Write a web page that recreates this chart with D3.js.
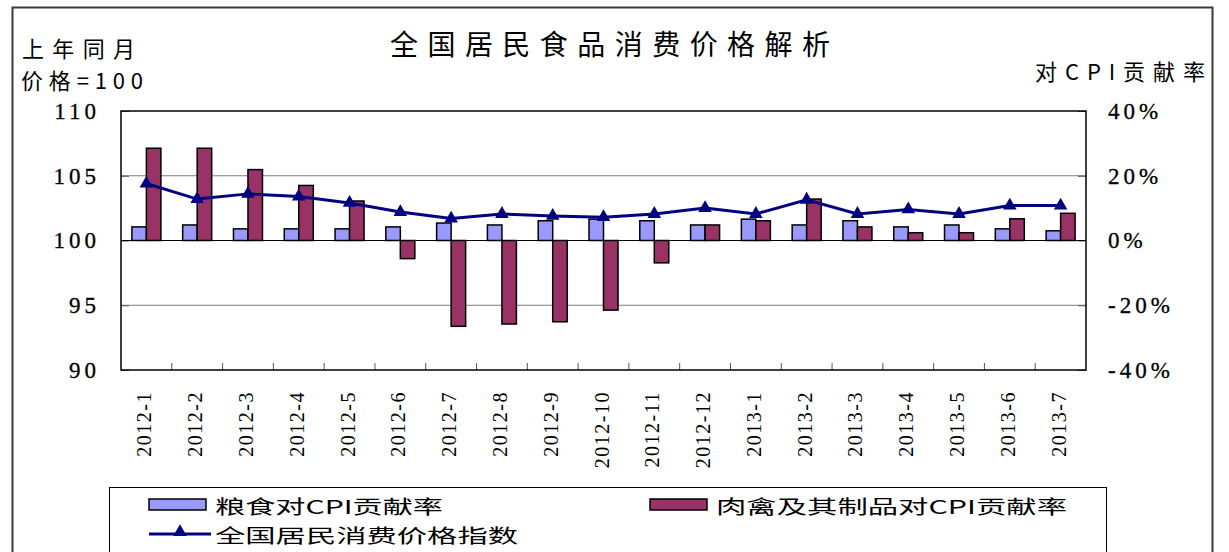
<!DOCTYPE html>
<html>
<head>
<meta charset="utf-8">
<script src="https://cdn.jsdelivr.net/npm/d3@7"></script>
<style>
  body { margin: 0; background: #fff; }
  svg { display: block; }
</style>
</head>
<body>
<svg id="chart"></svg>
<script>
// month labels
const months = ['2012-1','2012-2','2012-3','2012-4','2012-5','2012-6','2012-7','2012-8','2012-9','2012-10',
  '2012-11','2012-12','2013-1','2013-2','2013-3','2013-4','2013-5','2013-6','2013-7'];
// 粮食对CPI贡献率 (%)
const grain = [4.2, 4.8, 3.6, 3.6, 3.6, 4.2, 5.4, 4.8, 6.1, 6.6, 6.1, 4.8, 6.6, 4.8, 6.1, 4.2, 4.8, 3.6, 3.0];
// 肉禽及其制品对CPI贡献率 (%)
const meat = [28.5, 28.5, 21.9, 17.0, 12.2, -5.6, -26.5, -25.8, -25.1, -21.5, -6.9, 4.8, 6.1, 12.8, 4.2, 2.4, 2.4, 6.7, 8.4];
// 全国居民消费价格指数 (上年同月=100)
const cpi = [104.4, 103.2, 103.6, 103.4, 102.9, 102.2, 101.7, 102.05, 101.9, 101.8, 102.05, 102.5, 102.05, 103.15, 102.05, 102.4, 102.05, 102.7, 102.7];

const leftTicks = [90, 95, 100, 105, 110];
const rightTicks = [-40, -20, 0, 20, 40];

const width = 1229, height = 552;
const plot = { left: 121, right: 1086, top: 111, bottom: 370 };
const numFont = '"Liberation Serif", "Noto Sans CJK SC", serif';
const cjkFont = '"Noto Sans CJK SC", sans-serif';

const svg = d3.select('#chart')
    .attr('width', width)
    .attr('height', height);

// outer frame
svg.append('rect')
    .attr('x', 12.5).attr('y', 7.5)
    .attr('width', 1200).attr('height', 580)
    .attr('fill', 'none')
    .attr('stroke', '#3a3a3a')
    .attr('stroke-width', 2);

// scales
const xScale = d3.scaleBand()
    .domain(months)
    .range([plot.left, plot.right]);

const yLeft = d3.scaleLinear()
    .domain([90, 110])
    .range([plot.bottom, plot.top]);

const yRight = d3.scaleLinear()
    .domain([-40, 40])
    .range([plot.bottom, plot.top]);

const barW = 14.5;

// grid lines
svg.append('g')
  .selectAll('line')
  .data([95, 105])
  .join('line')
    .attr('x1', plot.left).attr('x2', plot.right)
    .attr('y1', d => yLeft(d)).attr('y2', d => yLeft(d))
    .attr('stroke', '#7f7f7f')
    .attr('stroke-width', 1);

// left axis
const yAxisL = svg.append('g')
    .attr('transform', `translate(${plot.left},0)`)
    .call(d3.axisLeft(yLeft).tickValues(leftTicks).tickSize(-8).tickPadding(21));
yAxisL.select('.domain').remove();
yAxisL.selectAll('line').attr('stroke', '#555');
yAxisL.selectAll('text')
    .attr('font-family', numFont)
    .attr('font-size', 23)
    .attr('letter-spacing', 4)
    .attr('stroke', '#000')
    .attr('stroke-width', 0.3)
    .attr('fill', '#000');

// right axis
const yAxisR = svg.append('g')
    .attr('transform', `translate(${plot.right},0)`)
    .call(d3.axisRight(yRight).tickValues(rightTicks).tickSize(-8).tickPadding(22)
      .tickFormat(d => d + '%'));
yAxisR.select('.domain').remove();
yAxisR.selectAll('line').attr('stroke', '#555');
yAxisR.selectAll('text')
    .attr('font-family', numFont)
    .attr('font-size', 23)
    .attr('letter-spacing', 4)
    .attr('stroke', '#000')
    .attr('stroke-width', 0.3)
    .attr('fill', '#000');

// bottom ticks between categories
svg.append('g')
  .selectAll('line')
  .data(months.slice(1))
  .join('line')
    .attr('x1', d => xScale(d)).attr('x2', d => xScale(d))
    .attr('y1', plot.bottom).attr('y2', plot.bottom - 7)
    .attr('stroke', '#555');

// x labels
svg.append('g')
  .selectAll('text')
  .data(months)
  .join('text')
    .attr('transform', d => `translate(${xScale(d) + xScale.bandwidth() / 2 - 2},391) rotate(-90)`)
    .attr('text-anchor', 'end')
    .attr('dominant-baseline', 'central')
    .attr('font-family', numFont)
    .attr('font-size', 20)
    .attr('letter-spacing', 1.5)
    .text(d => d);

// bars
const bars = svg.append('g');
bars.selectAll('.grain')
  .data(grain)
  .join('rect')
    .attr('class', 'grain')
    .attr('x', (d, i) => xScale(months[i]) + xScale.bandwidth() / 2 - barW)
    .attr('y', d => Math.min(yRight(d), yRight(0)))
    .attr('width', barW)
    .attr('height', d => Math.abs(yRight(d) - yRight(0)))
    .attr('fill', '#9999ff')
    .attr('stroke', '#000')
    .attr('stroke-width', 1.5);

bars.selectAll('.meat')
  .data(meat)
  .join('rect')
    .attr('class', 'meat')
    .attr('x', (d, i) => xScale(months[i]) + xScale.bandwidth() / 2)
    .attr('y', d => Math.min(yRight(d), yRight(0)))
    .attr('width', barW)
    .attr('height', d => Math.abs(yRight(d) - yRight(0)))
    .attr('fill', '#993366')
    .attr('stroke', '#000')
    .attr('stroke-width', 1.5);

// zero line (100)
svg.append('line')
    .attr('x1', plot.left).attr('x2', plot.right)
    .attr('y1', yLeft(100)).attr('y2', yLeft(100))
    .attr('stroke', '#000')
    .attr('stroke-width', 1.2);

// plot border
svg.append('rect')
    .attr('x', plot.left).attr('y', plot.top)
    .attr('width', plot.right - plot.left)
    .attr('height', plot.bottom - plot.top)
    .attr('fill', 'none')
    .attr('stroke', '#000')
    .attr('stroke-width', 1.5);

// cpi line
const line = d3.line()
    .x((d, i) => xScale(months[i]) + xScale.bandwidth() / 2)
    .y(d => yLeft(d));

svg.append('path')
    .datum(cpi)
    .attr('d', line)
    .attr('fill', 'none')
    .attr('stroke', '#000080')
    .attr('stroke-width', 3);

const tri = d3.symbol().type(d3.symbolTriangle).size(80);
svg.append('g')
  .selectAll('path')
  .data(cpi)
  .join('path')
    .attr('transform', (d, i) => `translate(${xScale(months[i]) + xScale.bandwidth() / 2},${yLeft(d)})`)
    .attr('d', tri)
    .attr('fill', '#000080');

// titles
svg.append('text')
    .attr('x', 390).attr('y', 43)
    .attr('dominant-baseline', 'central')
    .attr('font-family', cjkFont)
    .attr('font-size', 28)
    .attr('textLength', 440)
    .attr('lengthAdjust', 'spacing')
    .text('全国居民食品消费价格解析');

svg.append('text')
    .attr('x', 22).attr('y', 47)
    .attr('dominant-baseline', 'central')
    .attr('font-family', cjkFont)
    .attr('font-size', 22)
    .attr('textLength', 113)
    .attr('lengthAdjust', 'spacing')
    .text('上年同月');

svg.append('text')
    .attr('x', 21).attr('y', 79)
    .attr('dominant-baseline', 'central')
    .attr('font-family', cjkFont)
    .attr('font-size', 22)
    .attr('textLength', 122)
    .attr('lengthAdjust', 'spacing')
    .text('价格=100');

svg.append('text')
    .attr('x', 1035).attr('y', 70)
    .attr('dominant-baseline', 'central')
    .attr('font-family', cjkFont)
    .attr('font-size', 22)
    .attr('textLength', 170)
    .attr('lengthAdjust', 'spacing')
    .text('对CPI贡献率');

// legend
const legend = svg.append('g');
legend.append('rect')
    .attr('x', 109.5).attr('y', 487.5)
    .attr('width', 997).attr('height', 80)
    .attr('fill', '#fff')
    .attr('stroke', '#000')
    .attr('stroke-width', 1);

const legendItems = [
  { label: '粮食对CPI贡献率', color: '#9999ff', x: 149, y: 505, len: 228, kind: 'bar' },
  { label: '肉禽及其制品对CPI贡献率', color: '#993366', x: 650, y: 505, len: 351, kind: 'bar' },
  { label: '全国居民消费价格指数', color: '#000080', x: 149, y: 534, len: 303, kind: 'line' }
];

legendItems.forEach(d => {
  if (d.kind === 'bar') {
    legend.append('rect')
        .attr('x', d.x).attr('y', d.y - 6)
        .attr('width', 57).attr('height', 11)
        .attr('fill', d.color)
        .attr('stroke', '#000')
        .attr('stroke-width', 1.5);
  } else {
    legend.append('line')
        .attr('x1', d.x).attr('x2', d.x + 62)
        .attr('y1', d.y).attr('y2', d.y)
        .attr('stroke', d.color)
        .attr('stroke-width', 3);
    legend.append('path')
        .attr('transform', `translate(${d.x + 31},${d.y - 2})`)
        .attr('d', tri)
        .attr('fill', d.color);
  }
  legend.append('text')
      .attr('x', d.x + 66).attr('y', d.y)
      .attr('dominant-baseline', 'central')
      .attr('font-family', cjkFont)
      .attr('font-size', 19)
      .attr('textLength', d.len)
      .attr('lengthAdjust', 'spacingAndGlyphs')
      .text(d.label);
});
</script>
</body>
</html>
